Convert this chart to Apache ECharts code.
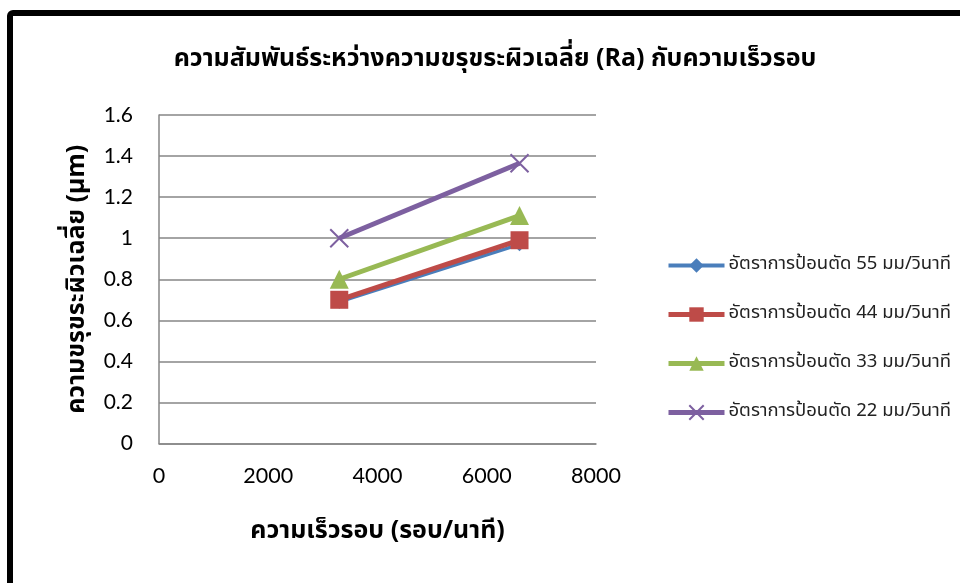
<!DOCTYPE html>
<html>
<head>
<meta charset="utf-8">
<script src="https://cdn.jsdelivr.net/npm/echarts@6/dist/echarts.min.js"></script>
<style>html,body{margin:0;padding:0;background:#fff;}#chart{width:960px;height:583px;}</style>
</head>
<body>
<div id="chart"></div>
<script>
const speeds = [3300, 6600];
const feed55 = [0.69, 0.97];
const feed44 = [0.70, 0.99];
const feed33 = [0.80, 1.11];
const feed22 = [1.00, 1.365];
const seriesNames = ['อัตราการป้อนตัด 55 มม/วินาที','อัตราการป้อนตัด 44 มม/วินาที','อัตราการป้อนตัด 33 มม/วินาที','อัตราการป้อนตัด 22 มม/วินาที'];
const xTicks = [0, 2000, 4000, 6000, 8000];
const yTicks = [0, 0.2, 0.4, 0.6, 0.8, 1, 1.2, 1.4, 1.6];

const pairs = v => speeds.map((s, i) => [s, v[i]]);
const labelFont = 'Lato, "Open Sans", sans-serif';
const thaiFont = 'Tahoma, "Noto Sans Thai", "Noto Sans", sans-serif';

const chart = echarts.init(document.getElementById('chart'));
chart.setOption({
  animation: false,
  backgroundColor: '#fff',
  graphic: [{
    type: 'rect', shape: {x: 10, y: 13, width: 1000, height: 1000, r: 3},
    style: {fill: 'none', stroke: '#000', lineWidth: 6}, silent: true
  }],
  title: {
    text: 'ความสัมพันธ์ระหว่างความขรุขระผิวเฉลี่ย (Ra) กับความเร็วรอบ',
    left: 490, top: 43, textAlign: 'center',
    textStyle: {fontSize: 25, fontWeight: 'bold', color: '#000', fontFamily: thaiFont}
  },
  grid: {left: 159, right: 364, top: 115, bottom: 139.5},
  legend: {
    orient: 'vertical', left: 661, top: 251, itemGap: 30, itemWidth: 56, itemHeight: 18,
    lineStyle: {width: 5},
    textStyle: {fontSize: 18.5, color: '#222', fontFamily: thaiFont, padding: [0, 0, 0, -1]},
    data: seriesNames.map((n, i) => i === 0 ? {name: n, lineStyle: {width: 4}} : {name: n})
  },
  xAxis: {
    type: 'value', min: xTicks[0], max: xTicks[xTicks.length - 1], interval: 2000,
    name: 'ความเร็วรอบ (รอบ/นาที)', nameLocation: 'middle', nameGap: 77,
    nameTextStyle: {fontSize: 25, fontWeight: 'bold', color: '#000', fontFamily: thaiFont},
    axisLine: {show: true, lineStyle: {color: '#868686', width: 1.5}},
    axisTick: {show: false}, splitLine: {show: false},
    axisLabel: {fontSize: 21.5, color: '#000', margin: 22, fontFamily: labelFont,
      formatter: v => String(v)}
  },
  yAxis: {
    type: 'value', min: yTicks[0], max: yTicks[yTicks.length - 1], interval: 0.2,
    name: 'ความขรุขระผิวเฉลี่ย (µm)', nameLocation: 'middle', nameGap: 68,
    nameTextStyle: {fontSize: 25, fontWeight: 'bold', color: '#000', fontFamily: thaiFont},
    axisLine: {show: true, lineStyle: {color: '#868686', width: 1.5}},
    axisTick: {show: false},
    splitLine: {show: true, lineStyle: {color: '#868686', width: 1.5}},
    axisLabel: {fontSize: 21, color: '#000', margin: 26, fontFamily: labelFont,
      formatter: v => String(Math.round(v * 10) / 10)}
  },
  series: [
    {name: seriesNames[0], type: 'line', data: pairs(feed55), symbol: 'diamond', symbolSize: 14,
      lineStyle: {width: 3.5, color: '#4a7ebb'}, itemStyle: {color: '#4a7ebb'}},
    {name: seriesNames[1], type: 'line', data: pairs(feed44), symbol: 'rect', symbolSize: 18,
      lineStyle: {width: 5, color: '#be4b48'}, itemStyle: {color: '#be4b48'}},
    {name: seriesNames[2], type: 'line', data: pairs(feed33), symbol: 'triangle', symbolSize: 19,
      lineStyle: {width: 5, color: '#98b954'}, itemStyle: {color: '#98b954'}},
    {name: seriesNames[3], type: 'line', data: pairs(feed22), symbol: 'path://M0,0L10,10M10,0L0,10', symbolSize: 18,
      symbolKeepAspect: true,
      lineStyle: {width: 5, color: '#7d60a0'},
      itemStyle: {color: 'transparent', borderColor: '#7d60a0', borderWidth: 2}}
  ]
});
</script>
</body>
</html>
